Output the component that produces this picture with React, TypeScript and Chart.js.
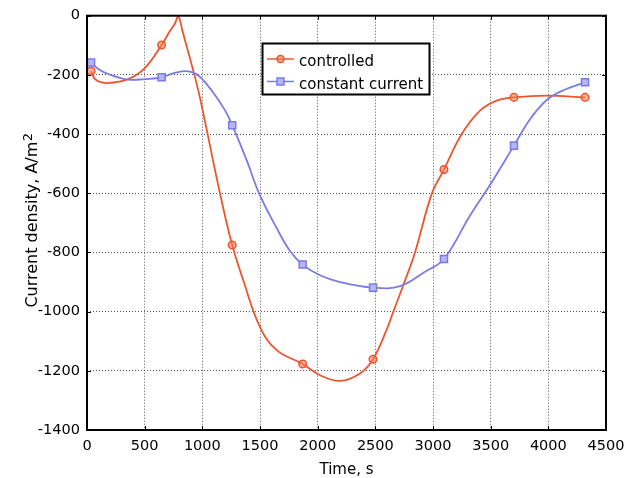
import React, { useEffect, useRef } from "react";
import { Chart, registerables } from "chart.js";

Chart.register(...registerables);

// ---- data ----
const ctrlTime = [35, 69, 127, 200, 358, 503, 647, 720, 760, 792, 830, 931, 985, 1153, 1259, 1355, 1500, 1645, 1870, 2020, 2194, 2367, 2480, 2599, 2656, 2743, 2844, 2989, 3095, 3249, 3408, 3552, 3702, 3986, 4318];
const ctrlDensity = [-187, -214, -225, -227, -214, -176, -99, -51, -28, -2, -55, -200, -287, -600, -775, -894, -1052, -1130, -1177, -1215, -1234, -1209, -1161, -1060, -1000, -910, -800, -602, -520, -400, -321, -287, -276, -270, -276];

const ccTime = [35, 98, 185, 358, 503, 647, 763, 878, 965, 1081, 1197, 1259, 1385, 1494, 1645, 1760, 1870, 2020, 2194, 2480, 2714, 2931, 3095, 3321, 3494, 3702, 3841, 3986, 4130, 4318];
const ccDensity = [-158, -180, -197, -216, -214, -208, -193, -188, -202, -253, -320, -370, -489, -602, -718, -795, -841, -877, -900, -919, -914, -865, -822, -675, -572, -439, -350, -285, -252, -225];

const markerTimes = [35, 647, 1259, 1870, 2480, 3095, 3702, 4318];

const xTickValues = [0, 500, 1000, 1500, 2000, 2500, 3000, 3500, 4000, 4500];
const yTickValues = [0, -200, -400, -600, -800, -1000, -1200, -1400];

const seriesNames = ["controlled", "constant current"];
const xTitle = "Time, s";
const yTitle = "Current density, A/m";
const yTitleSup = "2";

const CTRL_COLOR = "#ef5430";
const CTRL_FILL = "rgba(245,120,80,0.55)";
const CC_COLOR = "#7b7be6";
const CC_FILL = "#b4b6f6";
const FONT = "'DejaVu Sans', Verdana, sans-serif";

const framePlugin = {
  id: "framePlugin",
  afterDraw(chart: any) {
    const { ctx, chartArea: a, scales } = chart;
    const xs = scales.x;
    const ys = scales.y;
    ctx.save();
    ctx.setLineDash([]);
    ctx.strokeStyle = "#000";
    ctx.lineWidth = 1;
    ctx.beginPath();
    for (const v of xTickValues) {
      const px = Math.round(xs.getPixelForValue(v)) + 0.5;
      ctx.moveTo(px, a.top);
      ctx.lineTo(px, a.top + 4);
      ctx.moveTo(px, a.bottom);
      ctx.lineTo(px, a.bottom - 4);
    }
    for (const v of yTickValues) {
      const py = Math.round(ys.getPixelForValue(v)) + 0.5;
      ctx.moveTo(a.left, py);
      ctx.lineTo(a.left + 4, py);
      ctx.moveTo(a.right, py);
      ctx.lineTo(a.right - 4, py);
    }
    ctx.stroke();
    ctx.lineWidth = 2;
    ctx.strokeRect(a.left, a.top, a.right - a.left, a.bottom - a.top);

    // legend
    const lx = 262.5, ly = 43.5, lw = 167, lh = 51;
    ctx.fillStyle = "#fff";
    ctx.fillRect(lx, ly, lw, lh);
    ctx.lineWidth = 2;
    ctx.strokeStyle = "#000";
    ctx.strokeRect(lx, ly, lw, lh);
    const rows = [
      { y: 59, base: 66, color: CTRL_COLOR, fill: CTRL_FILL, shape: "circle" },
      { y: 81.5, base: 88.5, color: CC_COLOR, fill: CC_FILL, shape: "rect" },
    ];
    rows.forEach((r, i) => {
      ctx.strokeStyle = r.color;
      ctx.lineWidth = 1.5;
      ctx.beginPath();
      ctx.moveTo(267, r.y);
      ctx.lineTo(294, r.y);
      ctx.stroke();
      ctx.fillStyle = r.fill;
      ctx.beginPath();
      if (r.shape === "circle") ctx.arc(280.5, r.y, 3.5, 0, Math.PI * 2);
      else ctx.rect(277, r.y - 3.5, 7, 7);
      ctx.fill();
      ctx.stroke();
      ctx.fillStyle = "#000";
      ctx.font = `15px ${FONT}`;
      ctx.textAlign = "left";
      ctx.textBaseline = "alphabetic";
      ctx.fillText(seriesNames[i], 299, r.base);
    });

    // x title
    ctx.fillStyle = "#000";
    ctx.font = `15px ${FONT}`;
    ctx.textAlign = "center";
    ctx.textBaseline = "alphabetic";
    ctx.fillText(xTitle, (a.left + a.right) / 2, 474);

    // y title with superscript
    ctx.translate(36.5, 220.5);
    ctx.rotate(-Math.PI / 2);
    ctx.textAlign = "left";
    ctx.font = `16px ${FONT}`;
    const wm = ctx.measureText(yTitle).width;
    ctx.font = `13px ${FONT}`;
    const ws = ctx.measureText(yTitleSup).width;
    const start = -(wm + ws) / 2;
    ctx.font = `16px ${FONT}`;
    ctx.fillText(yTitle, start, 0);
    ctx.font = `13px ${FONT}`;
    ctx.fillText(yTitleSup, start + wm + 0.5, -5);
    ctx.restore();
  },
};

export default function App() {
  const ref = useRef<HTMLCanvasElement>(null);
  useEffect(() => {
    if (!ref.current) return;
    const isMarker = (c: any) => markerTimes.includes(c.raw?.x);
    const chart = new Chart(ref.current, {
      type: "line",
      data: {
        datasets: [
          {
            label: seriesNames[1],
            data: ccTime.map((t, i) => ({ x: t, y: ccDensity[i] })),
            borderColor: CC_COLOR,
            backgroundColor: CC_FILL,
            borderWidth: 1.8,
            tension: 0.4,
            pointStyle: "rect",
            pointRadius: (c: any) => (isMarker(c) ? 5 : 0),
            pointBorderColor: CC_COLOR,
            pointBackgroundColor: CC_FILL,
            pointBorderWidth: 1.5,
            fill: false,
          },
          {
            label: seriesNames[0],
            data: ctrlTime.map((t, i) => ({ x: t, y: ctrlDensity[i] })),
            borderColor: CTRL_COLOR,
            backgroundColor: CTRL_FILL,
            borderWidth: 1.8,
            tension: 0.4,
            pointStyle: "circle",
            pointRadius: (c: any) => (isMarker(c) ? 3.8 : 0),
            pointBorderColor: CTRL_COLOR,
            pointBackgroundColor: CTRL_FILL,
            pointBorderWidth: 1.5,
            fill: false,
          },
        ],
      },
      options: {
        animation: false,
        responsive: false,
        maintainAspectRatio: false,
        layout: { padding: { left: 0, right: 29, top: 15, bottom: 0 } },
        plugins: { legend: { display: false }, tooltip: { enabled: false } },
        scales: {
          x: {
            type: "linear",
            min: 0,
            max: 4500,
            afterFit: (s: any) => {
              s.height = 48;
            },
            ticks: {
              stepSize: 500,
              color: "#000",
              font: { family: FONT, size: 14.5 },
              padding: 8,
              maxRotation: 0,
              callback: (v: any) => String(v),
            },
            grid: { color: "#555", lineWidth: 1, drawTicks: false },
            border: { display: false, dash: [1, 2] },
          },
          y: {
            type: "linear",
            min: -1400,
            max: 0,
            afterFit: (s: any) => {
              s.width = 87;
            },
            ticks: {
              stepSize: 200,
              color: "#000",
              font: { family: FONT, size: 14.5 },
              padding: 7,
              callback: (v: any) => String(v),
            },
            grid: { color: "#555", lineWidth: 1, drawTicks: false },
            border: { display: false, dash: [1, 2] },
          },
        },
      },
      plugins: [framePlugin],
    } as any);
    return () => chart.destroy();
  }, []);
  return (
    <div style={{ position: "fixed", left: 0, top: 0, width: 635, height: 478, background: "#fff" }}>
      <canvas ref={ref} width={635} height={478} style={{ width: 635, height: 478, display: "block" }} />
    </div>
  );
}
